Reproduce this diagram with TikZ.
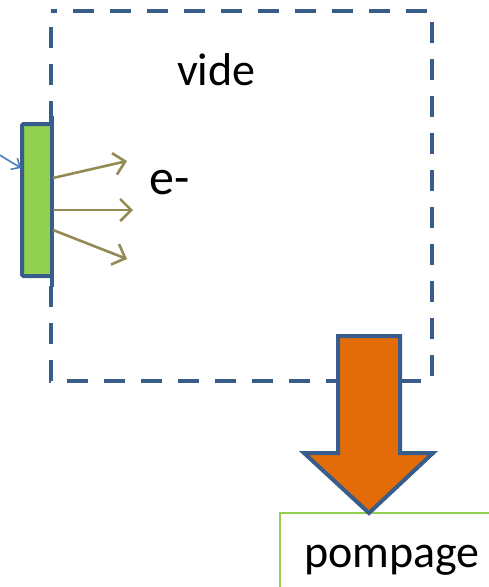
\documentclass[tikz,border=0pt]{standalone}
\usepackage{fontspec}
\setmainfont{Carlito}
\usetikzlibrary{arrows.meta}
\definecolor{boxblue}{HTML}{385D8A}
\definecolor{plategreen}{HTML}{92D050}
\definecolor{olive}{HTML}{948A54}
\definecolor{lightblue}{HTML}{4A7EBB}
\definecolor{pumporange}{HTML}{E36C09}
\tikzset{
  lbl/.style={inner sep=0pt, anchor=base west, font=\fontsize{46}{55}\selectfont},
  emit/.style={draw=olive, line width=2.6pt, -{Straight Barb[length=11pt,width=22pt,line width=2.6pt]}},
}
\begin{document}
\begin{tikzpicture}[x=1pt,y=-1pt]
\useasboundingbox (0,0) rectangle (489,587);
\clip (0,0) rectangle (489,587);
% vacuum chamber
\draw[boxblue, line width=4pt, dash pattern=on 21pt off 16pt, dash phase=15pt]
  (51,11) -- (432,11) -- (432,381) -- (51,381) -- cycle;
% pumping box
\draw[plategreen, line width=1.5pt] (280,620) -- (280,513) -- (520,513);
\node[lbl] (pompage) at (304,567) {pompage};
% labels
\node[lbl] (vide) at (177,85) {vide};
\node[lbl, font=\fontsize{50}{60}\selectfont] (electron) at (149,194) {e-};
% plate
\draw[boxblue, line width=4pt, fill=plategreen, rounded corners=1.5pt]
  (52,124) -- (22,124) -- (22,276) -- (52,276);
\draw[boxblue, line width=4pt] (52,116) -- (52,287);
% incoming light
\coordinate (lightsrc) at (-2,154);
\coordinate (lighttip) at (21,168);
\draw[lightblue, line width=1.6pt, -{Straight Barb[length=7pt,width=13pt,line width=1.6pt]}] (lightsrc) -- (lighttip);
% emitted electrons
\coordinate (e1s) at (53,178);
\coordinate (e1t) at (127,161);
\coordinate (e2s) at (53,210);
\coordinate (e2t) at (133,210);
\coordinate (e3s) at (53,230);
\coordinate (e3t) at (127,259);
\draw[emit] (e1s) -- (e1t);
\draw[emit] (e2s) -- (e2t);
\draw[emit] (e3s) -- (e3t);
% pumping arrow
\draw[boxblue, line width=4pt, fill=pumporange, line join=miter]
  (338,336) -- (400,336) -- (400,453) -- (433,453) -- (369,513) -- (304,453) -- (338,453) -- cycle;
\end{tikzpicture}
\end{document}
